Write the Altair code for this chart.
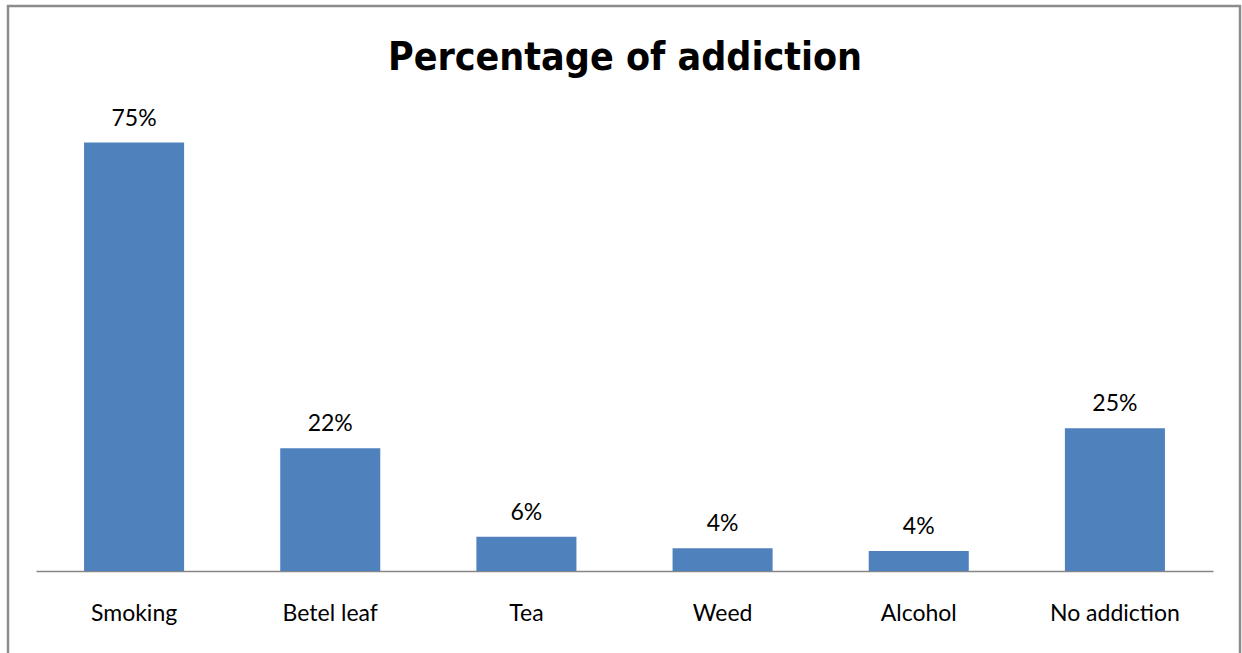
import altair as alt
import pandas as pd

categories = ["Smoking", "Betel leaf", "Tea", "Weed", "Alcohol", "No addiction"]
values = [75, 21.5, 6, 4, 3.5, 25]
labels = ["75%", "22%", "6%", "4%", "4%", "25%"]
title_text = "Percentage of addiction"

df = pd.DataFrame({"cat": categories, "val": values, "lab": labels})

W, H = 1177, 457
FONT = "Lato"

x = alt.X("cat:N", sort=categories, title=None,
          scale=alt.Scale(paddingInner=0.49, paddingOuter=0.245),
          axis=alt.Axis(labelAngle=0, labelFont=FONT, labelFontSize=23, labelColor="#000000",
                        ticks=False, tickSize=0, labelPadding=49, labelBaseline="alphabetic",
                        domainColor="#868686", domainWidth=1.5, grid=False))
y = alt.Y("val:Q", scale=alt.Scale(domain=[0, 80]), axis=None)

bars = alt.Chart(df).mark_bar(color="#4F81BD").encode(x=x, y=y)
text = alt.Chart(df).mark_text(font=FONT, fontSize=23, color="#000000",
                               baseline="alphabetic", dy=-17).encode(
    x=alt.X("cat:N", sort=categories), y=y, text="lab:N")

one = pd.DataFrame({"t": [title_text]})
title = alt.Chart(one).mark_text(
    font="'Liberation Sans Narrow', 'DejaVu Sans Condensed', 'Arial Narrow', Roboto, sans-serif",
    fontSize=39, fontWeight="bold", color="#000000", baseline="alphabetic", align="center").encode(
    x=alt.value(589), y=alt.value(-44), text="t:N")

frame_style = dict(color="#8C8C8C", strokeWidth=2.5)
top = alt.Chart(one).mark_rule(**frame_style).encode(
    x=alt.value(-29), x2=alt.value(1205), y=alt.value(-108))
left = alt.Chart(one).mark_rule(**frame_style).encode(
    x=alt.value(-28), y=alt.value(-109), y2=alt.value(545))
right = alt.Chart(one).mark_rule(**frame_style).encode(
    x=alt.value(1204), y=alt.value(-109), y2=alt.value(545))

chart = alt.layer(bars, text, title, top, left, right).properties(
    width=W, height=H,
    autosize=alt.AutoSizeParams(type="none"),
    padding={"left": 36, "top": 114, "right": 29, "bottom": 82},
).configure(background="#FFFFFF").configure_view(strokeWidth=0)

chart.save("out.html", embed_options={"renderer": "svg", "actions": False})
